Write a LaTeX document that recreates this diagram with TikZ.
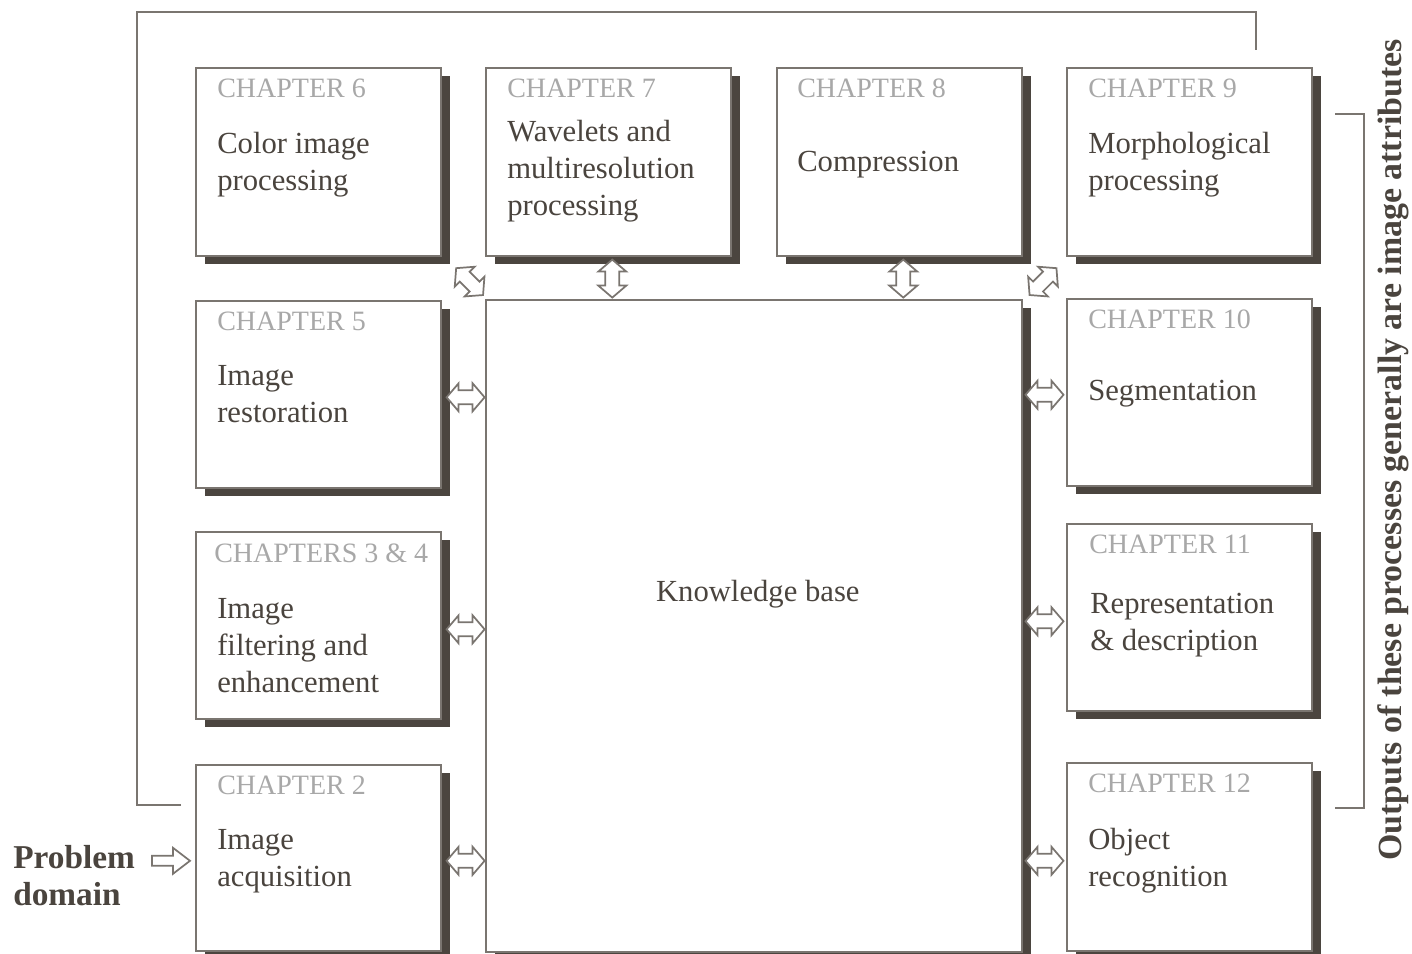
\documentclass[tikz,border=0pt]{standalone}
\usepackage{fontspec}
\setmainfont{Liberation Serif}
\usetikzlibrary{shadows,calc}
\definecolor{ink}{HTML}{4A443E}
\definecolor{shade}{HTML}{4B453F}
\definecolor{edge}{HTML}{7A7570}
\definecolor{chap}{HTML}{A8A8A8}
\begin{document}
\begin{tikzpicture}[x=0.75pt,y=-0.75pt,
  box/.style={draw=edge,line width=1.2pt,fill=white,anchor=north west,inner sep=0pt,
    minimum width=183.75pt,
    drop shadow={shadow xshift=7pt,shadow yshift=-6.5pt,opacity=1,fill=shade}},
  chapl/.style={anchor=west,text=chap,font=\fontsize{21}{25}\selectfont,inner sep=0pt},
  body/.style={anchor=base west,align=left,text=ink,font=\fontsize{23}{27.75}\selectfont,inner sep=0pt},
  arrowst/.style={draw=edge,line width=1.3pt,fill=white,line join=miter},
  frame/.style={draw=edge,line width=1.5pt},
  dbl/.pic={\path[arrowst] (-19,0) -- (-7,-14) -- (-7,-7) -- (7,-7) -- (7,-14) -- (19,0)
      -- (7,14) -- (7,7) -- (-7,7) -- (-7,14) -- cycle;},
  sgl/.pic={\path[arrowst] (-19,-5) -- (2,-5) -- (2,-13) -- (19,0) -- (2,13) -- (2,5)
      -- (-19,5) -- cycle;}
]
\clip (0,0) rectangle (1412,953);

% boxes
\node[box,minimum height=141pt] (ch6) at (195,67) {};
\node[box,minimum height=141pt] (ch7) at (485,67) {};
\node[box,minimum height=141pt] (ch8) at (776,67) {};
\node[box,minimum height=141pt] (ch9) at (1066,67) {};
\node[box,minimum height=140.25pt] (ch5) at (195,300) {};
\node[box,minimum height=140.25pt] (ch34) at (195,531) {};
\node[box,minimum height=139.5pt] (ch2) at (195,764) {};
\node[box,minimum height=140.25pt] (ch10) at (1066,298) {};
\node[box,minimum height=140.25pt] (ch11) at (1066,523) {};
\node[box,minimum height=141pt] (ch12) at (1066,762) {};
\node[box,minimum width=402pt,minimum height=489pt] (kb) at (485,299) {};

% chapter labels
\node[chapl] (l6) at (217,88) {CHAPTER 6};
\node[chapl] (l7) at (507,88) {CHAPTER 7};
\node[chapl] (l8) at (797,88) {CHAPTER 8};
\node[chapl] (l9) at (1088,88) {CHAPTER 9};
\node[chapl] (l5) at (217,321) {CHAPTER 5};
\node[chapl] (l10) at (1088,319) {CHAPTER 10};
\node[chapl] (l34) at (214,553) {CHAPTERS 3 \& 4};
\node[chapl] (l11) at (1089,544) {CHAPTER 11};
\node[chapl] (l2) at (217,785) {CHAPTER 2};
\node[chapl] (l12) at (1088,783) {CHAPTER 12};

% body texts (base = baseline of last line)
\node[body] (t6) at (217,190) {Color image\\processing};
\node[body] (t7) at (507,215) {Wavelets and\\multiresolution\\processing};
\node[body] (t8) at (797,171) {Compression};
\node[body] (t9) at (1088,190) {Morphological\\processing};
\node[body] (t5) at (217,422) {Image\\restoration};
\node[body] (t34) at (217,692) {Image\\filtering and\\enhancement};
\node[body] (t2) at (217,886) {Image\\acquisition};
\node[body] (t10) at (1088,400) {Segmentation};
\node[body] (t11) at (1090,650) {Representation\\\& description};
\node[body] (t12) at (1088,886) {Object\\recognition};
\node[body,anchor=center] (tkb) at ($(kb.north)+(4,295)$) {Knowledge base};

% problem domain
\node[anchor=base west,align=left,text=ink,inner sep=0pt,
  font=\fontsize{25}{27.75}\selectfont\bfseries] (prob) at (13,905) {Problem\\domain};
\pic at ($(ch2.west)+(-24,3)$) {sgl};

% double arrows to knowledge base
\pic at ($(ch5.east)+(24,3)$) {dbl};
\pic at ($(ch34.east)+(24,4)$) {dbl};
\pic at ($(ch2.east)+(24,3)$) {dbl};
\pic at ($(ch10.west)+(-21.5,2.5)$) {dbl};
\pic at ($(ch11.west)+(-21.5,4)$) {dbl};
\pic at ($(ch12.west)+(-21.5,4)$) {dbl};
\pic[rotate=90] at ($(ch7.south)+(4,22)$) {dbl};
\pic[rotate=90] at ($(ch8.south)+(4,22)$) {dbl};
\pic[rotate=-45] at ($(ch6.south east)+(28,25)$) {dbl};
\pic[rotate=45] at ($(ch9.south west)+(-23,25)$) {dbl};

% feedback frame
\coordinate (fbstart) at (181,805);
\coordinate (fbend) at (1256,50);
\draw[frame] (fbstart) -| (137,12) -| (fbend);

% output bracket
\coordinate (brtop) at (1335,114);
\coordinate (brbot) at (1335,808);
\draw[frame] (brtop) -| (1364,460) |- (brbot);
\node[rotate=90,text=ink,inner sep=0pt,font=\fontsize{25.4}{28}\selectfont\bfseries] (outl)
  at (1393,450) {Outputs of these processes generally are image attributes};
\end{tikzpicture}
\end{document}
